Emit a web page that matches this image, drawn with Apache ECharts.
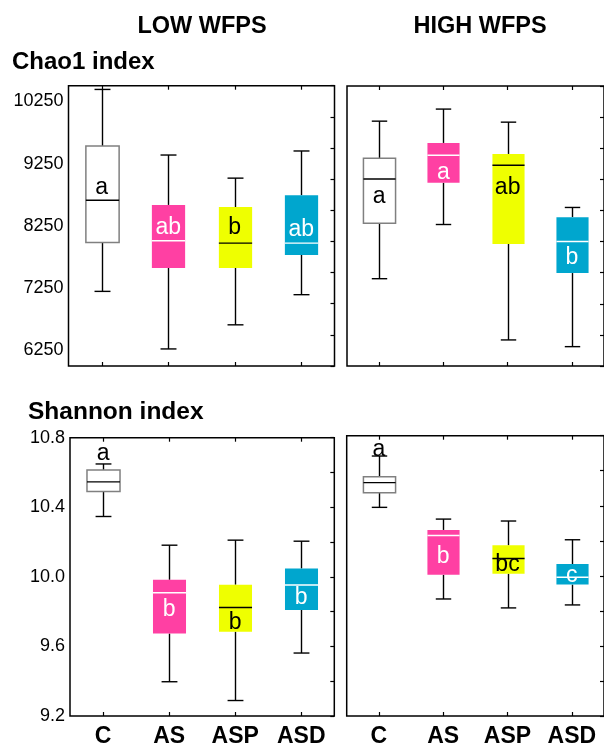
<!DOCTYPE html>
<html>
<head>
<meta charset="utf-8">
<script src="https://cdn.jsdelivr.net/npm/echarts@6/dist/echarts.min.js"></script>
<style>html,body{margin:0;padding:0;background:#fff}#c{width:604px;height:748px}</style>
</head>
<body>
<div id="c"></div>
<script>
// ---- data ----
const categories = ['C', 'AS', 'ASP', 'ASD'];
// [min, q1, median, q3, max]
const chaoLow = [[7198, 7984, 8661, 9532, 10440], [6274, 7574, 8010, 8586, 9387], [6661, 7574, 7973, 8553, 9016], [7145, 7784, 7973, 8742, 9452]];
const chaoHigh = [[7403, 8295, 9005, 9339, 9935], [8274, 8945, 9387, 9585, 10129], [6419, 7961, 9226, 9408, 9919], [6311, 7494, 8000, 8392, 8548]];
const shannonLow = [[10.347, 10.490, 10.546, 10.615, 10.649], [9.397, 9.674, 9.909, 9.983, 10.182], [9.289, 9.685, 9.824, 9.955, 10.211], [9.562, 9.810, 9.953, 10.048, 10.205]];
const shannonHigh = [[10.391, 10.474, 10.532, 10.566, 10.684], [9.868, 10.006, 10.230, 10.262, 10.324], [9.817, 10.012, 10.099, 10.174, 10.313], [9.834, 9.950, 9.992, 10.067, 10.206]];
const chaoLowLetters = ['a', 'ab', 'b', 'ab'];
const chaoLowLetterY = [8860, 8219, 8227, 8194];
const chaoHighLetters = ['a', 'a', 'ab', 'b'];
const chaoHighLetterY = [8718, 9113, 8863, 7739];
const shannonLowLetters = ['a', 'b', 'b', 'b'];
const shannonLowLetterY = [10.711, 9.813, 9.734, 9.880];
const shannonHighLetters = ['a', 'b', 'bc', 'c'];
const shannonHighLetterY = [10.719, 10.110, 10.063, 10.002];
const chaoTickLabels = [6250, 7250, 8250, 9250, 10250];
const shannonTickLabels = ['9.2', '9.6', '10.0', '10.4', '10.8'];

// ---- styles ----
const FONT = 'Liberation Sans, Arial, Helvetica, sans-serif';
const boxFill = ['#ffffff', '#ff40a3', '#efff00', '#00a6ce'];
const boxStroke = ['#808080', null, null, null];
const medianColor = ['#000000', '#ffffff', '#000000', '#ffffff'];
const letterColor = ['#000000', '#ffffff', '#000000', '#ffffff'];

const grids = [
  { left: 68.5, top: 85.7, width: 266, height: 280.3 },
  { left: 347, top: 86, width: 264, height: 280 },
  { left: 70, top: 437.7, width: 264.3, height: 281.3 },
  { left: 346.7, top: 435.7, width: 264, height: 284.3 }
];

function renderBox(params, api) {
  const i = api.value(0);
  const p = [1, 2, 3, 4, 5].map(d => api.coord([i, api.value(d)]));
  const x = Math.round(p[0][0]) + 0.5;
  const band = api.size([1, 0])[0];
  const hw = band * 0.25, cw = band * 0.12;
  const [yMin, yQ1, yMed, yQ3, yMax] = p.map(q => q[1]);
  const ls = { stroke: '#000', lineWidth: 1.4 };
  const children = [
    { type: 'line', shape: { x1: x, y1: yMax, x2: x, y2: yQ3 }, style: ls },
    { type: 'line', shape: { x1: x, y1: yQ1, x2: x, y2: yMin }, style: ls },
    { type: 'line', shape: { x1: x - cw, y1: yMax, x2: x + cw, y2: yMax }, style: ls },
    { type: 'line', shape: { x1: x - cw, y1: yMin, x2: x + cw, y2: yMin }, style: ls },
    { type: 'rect', shape: { x: x - hw, y: yQ3, width: 2 * hw, height: yQ1 - yQ3 },
      style: { fill: boxFill[i], stroke: boxStroke[i], lineWidth: boxStroke[i] ? 1.5 : 0 } },
    { type: 'line', shape: { x1: x - hw, y1: yMed, x2: x + hw, y2: yMed },
      style: { stroke: medianColor[i], lineWidth: 1.4 } }
  ];
  return { type: 'group', children };
}

function renderLetter(params, api) {
  const i = api.value(0);
  const c = api.coord([i, api.value(1)]);
  return { type: 'text', x: c[0], y: c[1],
    style: { text: params.context.letters[i], fill: letterColor[i], font: '23px ' + FONT, align: 'center', verticalAlign: 'middle' } };
}

const panelData = [
  { box: chaoLow, letters: chaoLowLetters, ly: chaoLowLetterY },
  { box: chaoHigh, letters: chaoHighLetters, ly: chaoHighLetterY },
  { box: shannonLow, letters: shannonLowLetters, ly: shannonLowLetterY },
  { box: shannonHigh, letters: shannonHighLetters, ly: shannonHighLetterY }
];

const xAxes = [], yAxes = [], series = [];
grids.forEach((g, k) => {
  const isChao = k < 2;
  const showY = (k % 2 === 0);
  const showX = k >= 2;
  const tickStyle = { show: true, inside: true, alignWithLabel: true, length: 4, lineStyle: { color: '#000', width: 1.2 } };
  xAxes.push({ gridIndex: k, type: 'category', data: categories, position: 'bottom', axisLine: { show: false },
    axisTick: tickStyle,
    axisLabel: { show: showX, color: '#000', fontFamily: FONT, fontWeight: 'bold', fontSize: 23, margin: 9 } });
  xAxes.push({ gridIndex: k, type: 'category', data: categories, position: 'top', axisLine: { show: false },
    axisTick: tickStyle, axisLabel: { show: false } });
  const min = isChao ? 6000 : 9.2, max = isChao ? 10500 : 10.8;
  yAxes.push({ gridIndex: k, type: 'value', position: 'left', min, max, interval: isChao ? 250 : 0.4,
    axisLine: { show: false }, axisTick: { show: false }, splitLine: { show: false },
    axisLabel: { show: showY, color: '#000', fontFamily: FONT, fontSize: 18, margin: 5,
      formatter: v => {
        if (isChao) return chaoTickLabels.includes(Math.round(v)) ? String(Math.round(v)) : '';
        const s = v.toFixed(1);
        return shannonTickLabels.includes(s) ? s : '';
      } } });
  yAxes.push({ gridIndex: k, type: 'value', position: 'right', min, max, interval: isChao ? 500 : 0.2,
    axisLine: { show: false }, splitLine: { show: false }, axisLabel: { show: false },
    axisTick: { show: true, inside: true, length: 4, lineStyle: { color: '#000', width: 1.2 } } });
  const pd = panelData[k];
  series.push({ type: 'custom', xAxisIndex: 2 * k, yAxisIndex: 2 * k, renderItem: renderBox, silent: true,
    encode: { x: 0, y: [1, 2, 3, 4, 5] },
    data: pd.box.map((b, i) => [i].concat(b)) });
  series.push({ type: 'custom', xAxisIndex: 2 * k, yAxisIndex: 2 * k, silent: true, z: 5,
    renderItem: (params, api) => { params.context.letters = pd.letters; return renderLetter(params, api); },
    encode: { x: 0, y: 1 },
    data: pd.ly.map((y, i) => [i, y]) });
});

const chart = echarts.init(document.getElementById('c'), null, { renderer: 'canvas' });
chart.setOption({
  animation: false,
  backgroundColor: '#fff',
  grid: grids.map(g => Object.assign({ show: true, borderColor: '#000', borderWidth: 1.5, backgroundColor: 'transparent' }, g)),
  xAxis: xAxes,
  yAxis: yAxes,
  series,
  graphic: [
    { type: 'text', x: 202, y: 27, style: { text: 'LOW WFPS', font: 'bold 23.5px ' + FONT, fill: '#000', align: 'center', verticalAlign: 'middle' } },
    { type: 'text', x: 480, y: 27, style: { text: 'HIGH WFPS', font: 'bold 23.5px ' + FONT, fill: '#000', align: 'center', verticalAlign: 'middle' } },
    { type: 'text', x: 12, y: 62, style: { text: 'Chao1 index', font: 'bold 24px ' + FONT, fill: '#000', align: 'left', verticalAlign: 'middle' } },
    { type: 'text', x: 28, y: 412, style: { text: 'Shannon index', font: 'bold 24.5px ' + FONT, fill: '#000', align: 'left', verticalAlign: 'middle' } }
  ]
});
</script>
</body>
</html>
